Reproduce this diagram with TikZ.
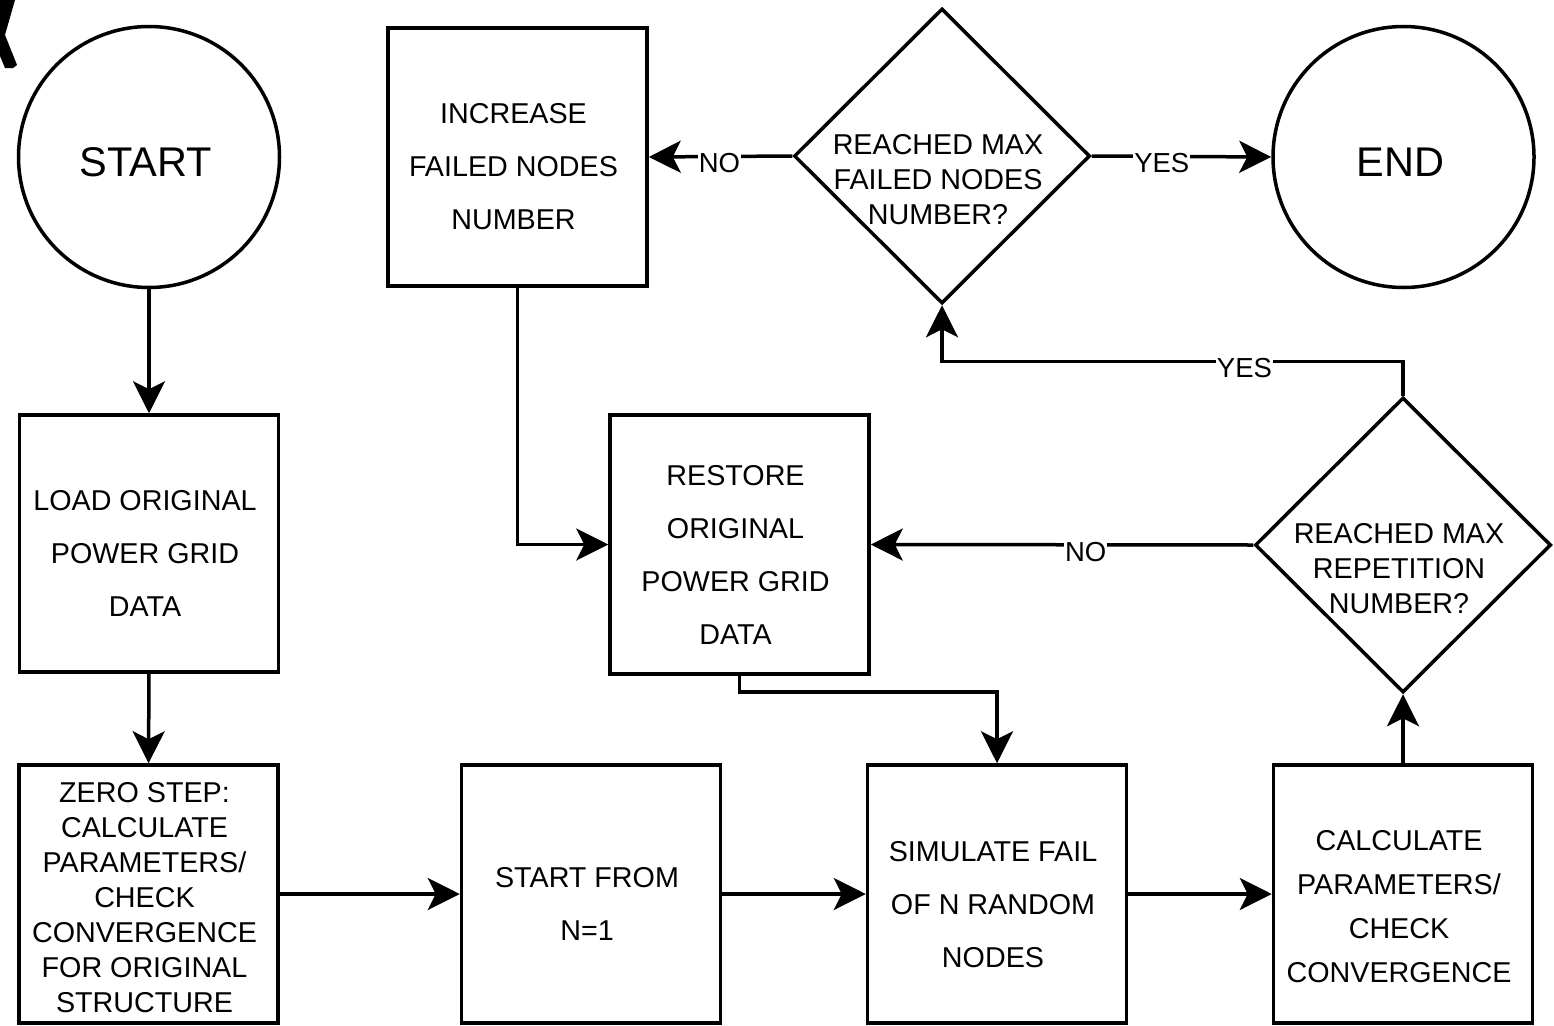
\documentclass[tikz,border=0pt]{standalone}
\usepackage{fontspec}
\setmainfont{Liberation Sans}
\usetikzlibrary{shapes.geometric,arrows.meta,calc}
\tikzset{
  ln/.style={line width=3.5pt, black},
  arr/.style={ln, -{Stealth[length=32pt,width=32pt,inset=8pt]}},
  boxnode/.style={draw, ln, rectangle, minimum width=259pt, minimum height=258pt, inner sep=0pt},
  circnode/.style={draw, ln, circle, minimum size=261pt, inner sep=0pt},
  dianode/.style={draw, ln, diamond, minimum width=296pt, minimum height=295pt, inner sep=0pt},
  txtA/.style={align=center, inner sep=0pt, xshift=-4pt, font=\fontsize{28.7}{53}\selectfont},
  txtB/.style={align=center, inner sep=0pt, xshift=-4pt, font=\fontsize{28.7}{35}\selectfont},
  txtC/.style={align=center, inner sep=0pt, xshift=-4pt, font=\fontsize{28.7}{44}\selectfont},
  bigtxt/.style={inner sep=0pt, xshift=-3pt, font=\fontsize{41.5}{41.5}\selectfont},
  lbl/.style={fill=white, inner sep=1pt, font=\fontsize{27.5}{27.5}\selectfont, yshift=-7pt}
}
\begin{document}
\begin{tikzpicture}[x=1pt,y=-1pt]
\useasboundingbox[fill=white] (0,0) rectangle (1554,1025);
% cropped glyph in the corner
\fill (0,0) -- (15,0) -- (5,35) -- (17,65) -- (13,68) -- (5,68) -- (0,56) -- cycle;

% nodes
\node[circnode] (start) at (149,157) {};
\node[bigtxt] at ($(start.center)+(0,5)$) {START};
\node[boxnode, minimum height=257pt] (load) at (149,543.5) {};
\node[txtA] at ($(load.center)+(0,10)$) {LOAD ORIGINAL\\POWER GRID\\DATA};
\node[boxnode] (zero) at (148.5,894) {};
\node[txtB] at ($(zero.center)+(0,4)$) {ZERO STEP:\\CALCULATE\\PARAMETERS/\\CHECK\\CONVERGENCE\\FOR ORIGINAL\\STRUCTURE};
\node[boxnode] (sfrom) at (591,894) {};
\node[txtA] at ($(sfrom.center)+(0,10)$) {START FROM\\N=1};
\node[boxnode] (sim) at (997,894) {};
\node[txtA] at ($(sim.center)+(0,11)$) {SIMULATE FAIL\\OF N RANDOM\\NODES};
\node[boxnode] (calc) at (1403,894) {};
\node[txtC] at ($(calc.center)+(0,13)$) {CALCULATE\\PARAMETERS/\\CHECK\\CONVERGENCE};
\node[dianode] (d2) at (1403,545) {};
\node[txtB] at ($(d2.center)+(0,24)$) {REACHED MAX\\REPETITION\\NUMBER?};
\node[boxnode, minimum height=259pt] (restore) at (739.5,544.5) {};
\node[txtA] at ($(restore.center)+(0,10)$) {RESTORE\\ORIGINAL\\POWER GRID\\DATA};
\node[boxnode] (inc) at (517.5,157) {};
\node[txtA] at ($(inc.center)+(0,10)$) {INCREASE\\FAILED NODES\\NUMBER};
\node[dianode] (d1) at (942,156) {};
\node[txtB] at ($(d1.center)+(0,24)$) {REACHED MAX\\FAILED NODES\\NUMBER?};
\node[circnode] (end) at (1403.5,157) {};
\node[bigtxt] at ($(end.center)+(0,5)$) {END};

% connectors
\draw[arr] (start.south) -- (load.north);
\draw[arr] (load.south) -- (zero.north);
\draw[arr] (zero.east) -- (sfrom.west);
\draw[arr] (sfrom.east) -- (sim.west);
\draw[arr] (sim.east) -- (calc.west);
\draw[arr] (calc.north) -- (d2.south);
\draw[arr] (d2.west) -- node[lbl, pos=0.438] {NO} (restore.east);
\draw[arr] (restore.south) -- ++(0,16) -| (sim.north);
\draw[arr] (d2.north) |- node[lbl, pos=0.672] {YES} ($(d1.south)+(0,56)$) -- (d1.south);
\draw[arr] (inc.south) |- (restore.west);
\draw[arr] (d1.west) -- node[lbl, pos=0.507] {NO} (inc.east);
\draw[arr] (d1.east) -- node[lbl, pos=0.39] {YES} (end.west);
\end{tikzpicture}
\end{document}
